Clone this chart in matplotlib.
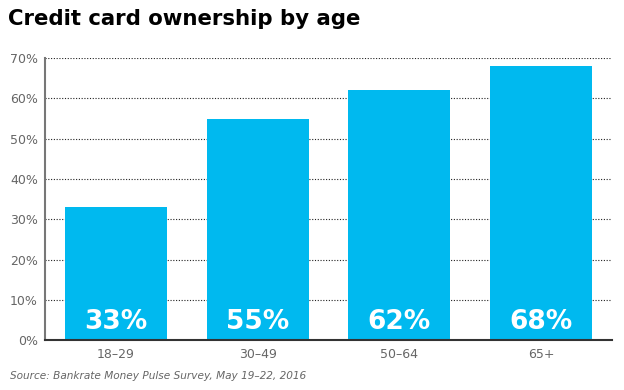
import matplotlib.pyplot as plt
from matplotlib.ticker import FuncFormatter

ages = ['18\u201329', '30\u201349', '50\u201364', '65+']
share = [33, 55, 62, 68]

fig = plt.figure(figsize=(6.24, 3.9), dpi=100)
ax = fig.add_axes([0.072, 0.128, 0.909, 0.723])

x = range(len(ages))
ax.bar(x, share, width=0.72, color='#00b9ef', zorder=2)
for i, v in zip(x, share):
    ax.text(i, 4.5, f'{v}%', ha='center', va='center', color='white',
            fontsize=19, fontweight='bold', zorder=3)

ax.set_xlim(-0.5, 3.5)
ax.set_ylim(0, 70)
ax.set_yticks(range(0, 71, 10))
ax.yaxis.set_major_formatter(FuncFormatter(lambda v, p: f'{int(v)}%'))
ax.set_xticks(list(x))
ax.set_xticklabels(ages)
ax.tick_params(axis='both', length=0, labelsize=9, labelcolor='#666666')
ax.tick_params(axis='y', pad=5)
ax.tick_params(axis='x', pad=6)
ax.yaxis.grid(True, linestyle=(0, (1, 1.5)), color='#222222', linewidth=0.8, zorder=1)
ax.set_axisbelow(True)

for s in ['top', 'right']:
    ax.spines[s].set_visible(False)
ax.spines['left'].set_color('#777777')
ax.spines['left'].set_linewidth(1.5)
ax.spines['bottom'].set_color('#333333')
ax.spines['bottom'].set_linewidth(1.5)

fig.text(0.013, 0.952, 'Credit card ownership by age', fontsize=15.3,
         fontweight='bold', va='center', ha='left')
fig.text(0.016, 0.036, 'Source: Bankrate Money Pulse Survey, May 19\u201322, 2016',
         fontsize=7.6, style='italic', color='#666666', va='center', ha='left')

fig.savefig('out.png', dpi=100)
